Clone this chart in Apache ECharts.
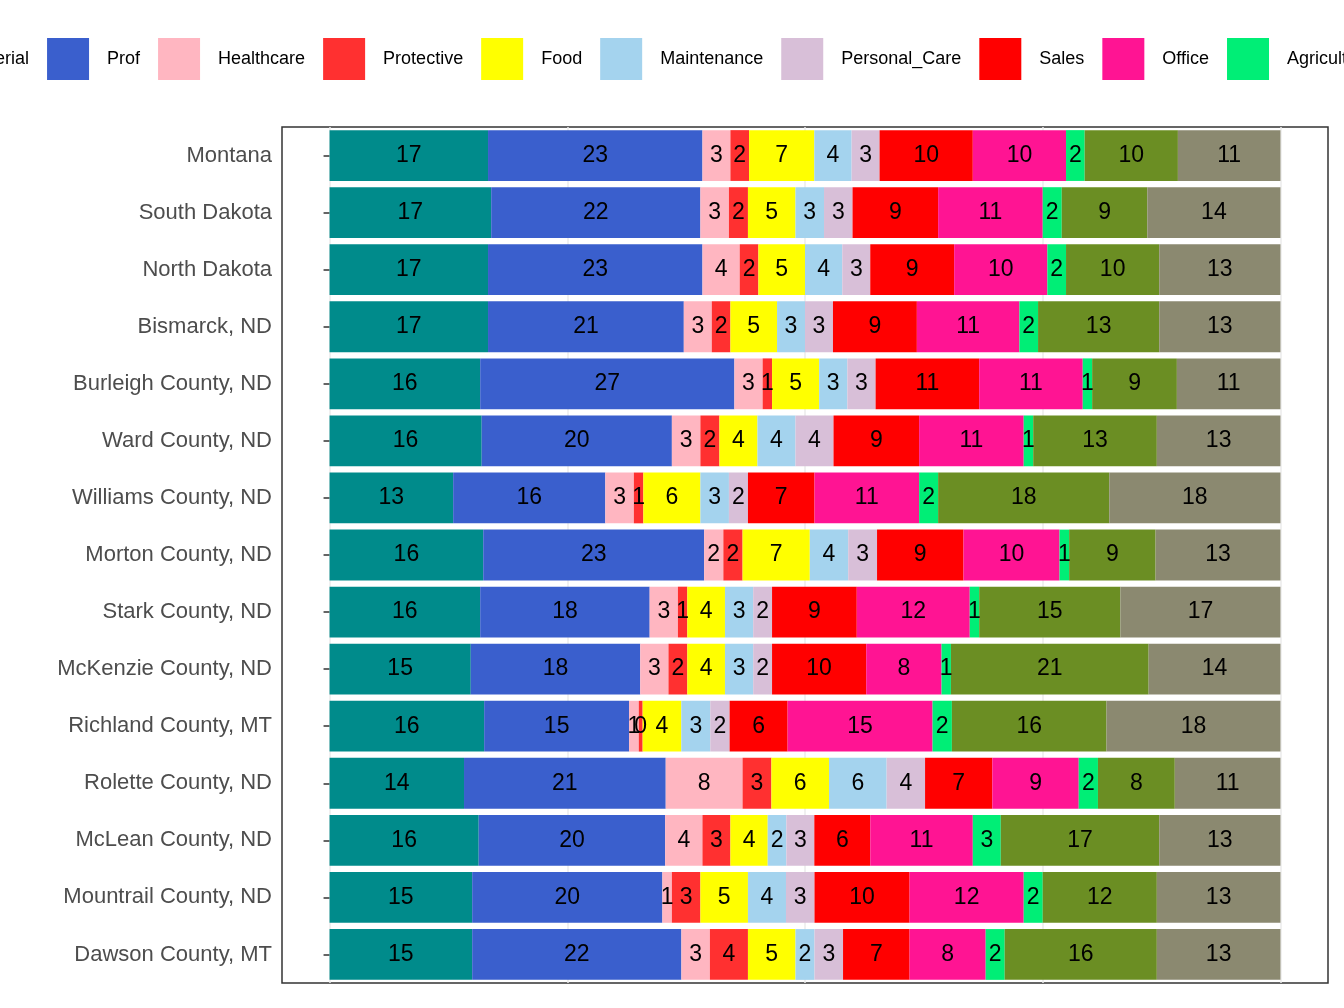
<!DOCTYPE html>
<html lang="en">
<head>
<meta charset="UTF-8">
<title>Occupations</title>
<script src="https://cdn.jsdelivr.net/npm/echarts@6/dist/echarts.min.js"></script>
</head>
<style>
    *{ margin:0; padding:0; }
    html, body{ width:1344px; height:1008px; background:#fff; }
    .container{ width:1344px; height:1008px; }
</style>
<body>
<div class="container"></div>
<script>
    let places = ['Montana','South Dakota','North Dakota','Bismarck, ND','Burleigh County, ND','Ward County, ND',
        'Williams County, ND','Morton County, ND','Stark County, ND','McKenzie County, ND','Richland County, MT',
        'Rolette County, ND','McLean County, ND','Mountrail County, ND','Dawson County, MT'];
    let groups = ['Managerial','Prof','Healthcare','Protective','Food','Maintenance','Personal_Care','Sales','Office','Agriculture','Construction','Production'];
    let colors = ['#008B8B','#3A5FCD','#FFB6C1','#FF3030','#FFFF00','#A4D3EE','#D8BFD8','#FF0000','#FF1493','#00EE76','#6B8E23','#8B8970'];

    // one row per place, values in group order (percent)
    let montana    = [17,23,3,2,7,4,3,10,10,2,10,11];
    let southDak   = [17,22,3,2,5,3,3,9,11,2,9,14];
    let northDak   = [17,23,4,2,5,4,3,9,10,2,10,13];
    let bismarck   = [17,21,3,2,5,3,3,9,11,2,13,13];
    let burleigh   = [16,27,3,1,5,3,3,11,11,1,9,11];
    let ward       = [16,20,3,2,4,4,4,9,11,1,13,13];
    let williams   = [13,16,3,1,6,3,2,7,11,2,18,18];
    let morton     = [16,23,2,2,7,4,3,9,10,1,9,13];
    let stark      = [16,18,3,1,4,3,2,9,12,1,15,17];
    let mckenzie   = [15,18,3,2,4,3,2,10,8,1,21,14];
    let richland   = [16,15,1,0.4,4,3,2,6,15,2,16,18];
    let rolette    = [14,21,8,3,6,6,4,7,9,2,8,11];
    let mclean     = [16,20,4,3,4,2,3,6,11,3,17,13];
    let mountrail  = [15,20,1,3,5,4,3,10,12,2,12,13];
    let dawson     = [15,22,3,4,5,2,3,7,8,2,16,13];
    let rows = [montana,southDak,northDak,bismarck,burleigh,ward,williams,morton,stark,mckenzie,richland,rolette,mclean,mountrail,dawson];

    let mycharts = echarts.init(document.querySelector('.container'));

    let series = groups.map((g, gi) => ({
        name: g,
        type: 'bar',
        stack: 'all',
        barCategoryGap: '11%',
        z: 2,
        itemStyle: { color: colors[gi] },
        label: {
            show: true, position: 'inside', color: '#000', fontSize: 23,
            fontFamily: 'Liberation Sans',
            formatter: p => Math.round(rows[p.dataIndex][gi])
        },
        data: rows.map(r => {
            let s = r.reduce((a, b) => a + b, 0);
            return r[gi] / s * 100;
        })
    }));
    // vertical grid lines
    series.push({
        type: 'line', data: [], silent: true, z: 0,
        markLine: {
            silent: true, symbol: 'none', label: { show: false }, z: 0,
            lineStyle: { color: '#ebebeb', type: 'solid', width: 1.5 },
            data: [0,25,50,75,100].map(v => ({ xAxis: v }))
        }
    });

    mycharts.setOption({
        animation: false,
        legend: {
            data: groups, left: -125, top: 33, width: 3000,
            itemWidth: 42, itemHeight: 42, itemGap: 18,
            icon: 'rect',
            textStyle: { fontSize: 18, color: '#000', fontFamily: 'Liberation Sans', padding: [0,0,0,13] }
        },
        grid: { left: 282, right: 16, top: 127, bottom: 25, show: true, borderColor: '#333', borderWidth: 1.5 },
        xAxis: {
            type: 'value', min: -5, max: 105,
            axisLabel: { show: false }, axisTick: { show: false }, axisLine: { show: false }, splitLine: { show: false }
        },
        yAxis: {
            type: 'category', data: places, inverse: true,
            axisLine: { show: false },
            axisTick: { show: true, alignWithLabel: true, length: 6, lineStyle: { color: '#333', width: 1.5 } },
            axisLabel: { fontSize: 22, color: '#4d4d4d', fontFamily: 'Liberation Sans', margin: 10 }
        },
        series
    });
</script>
</body>
</html>
